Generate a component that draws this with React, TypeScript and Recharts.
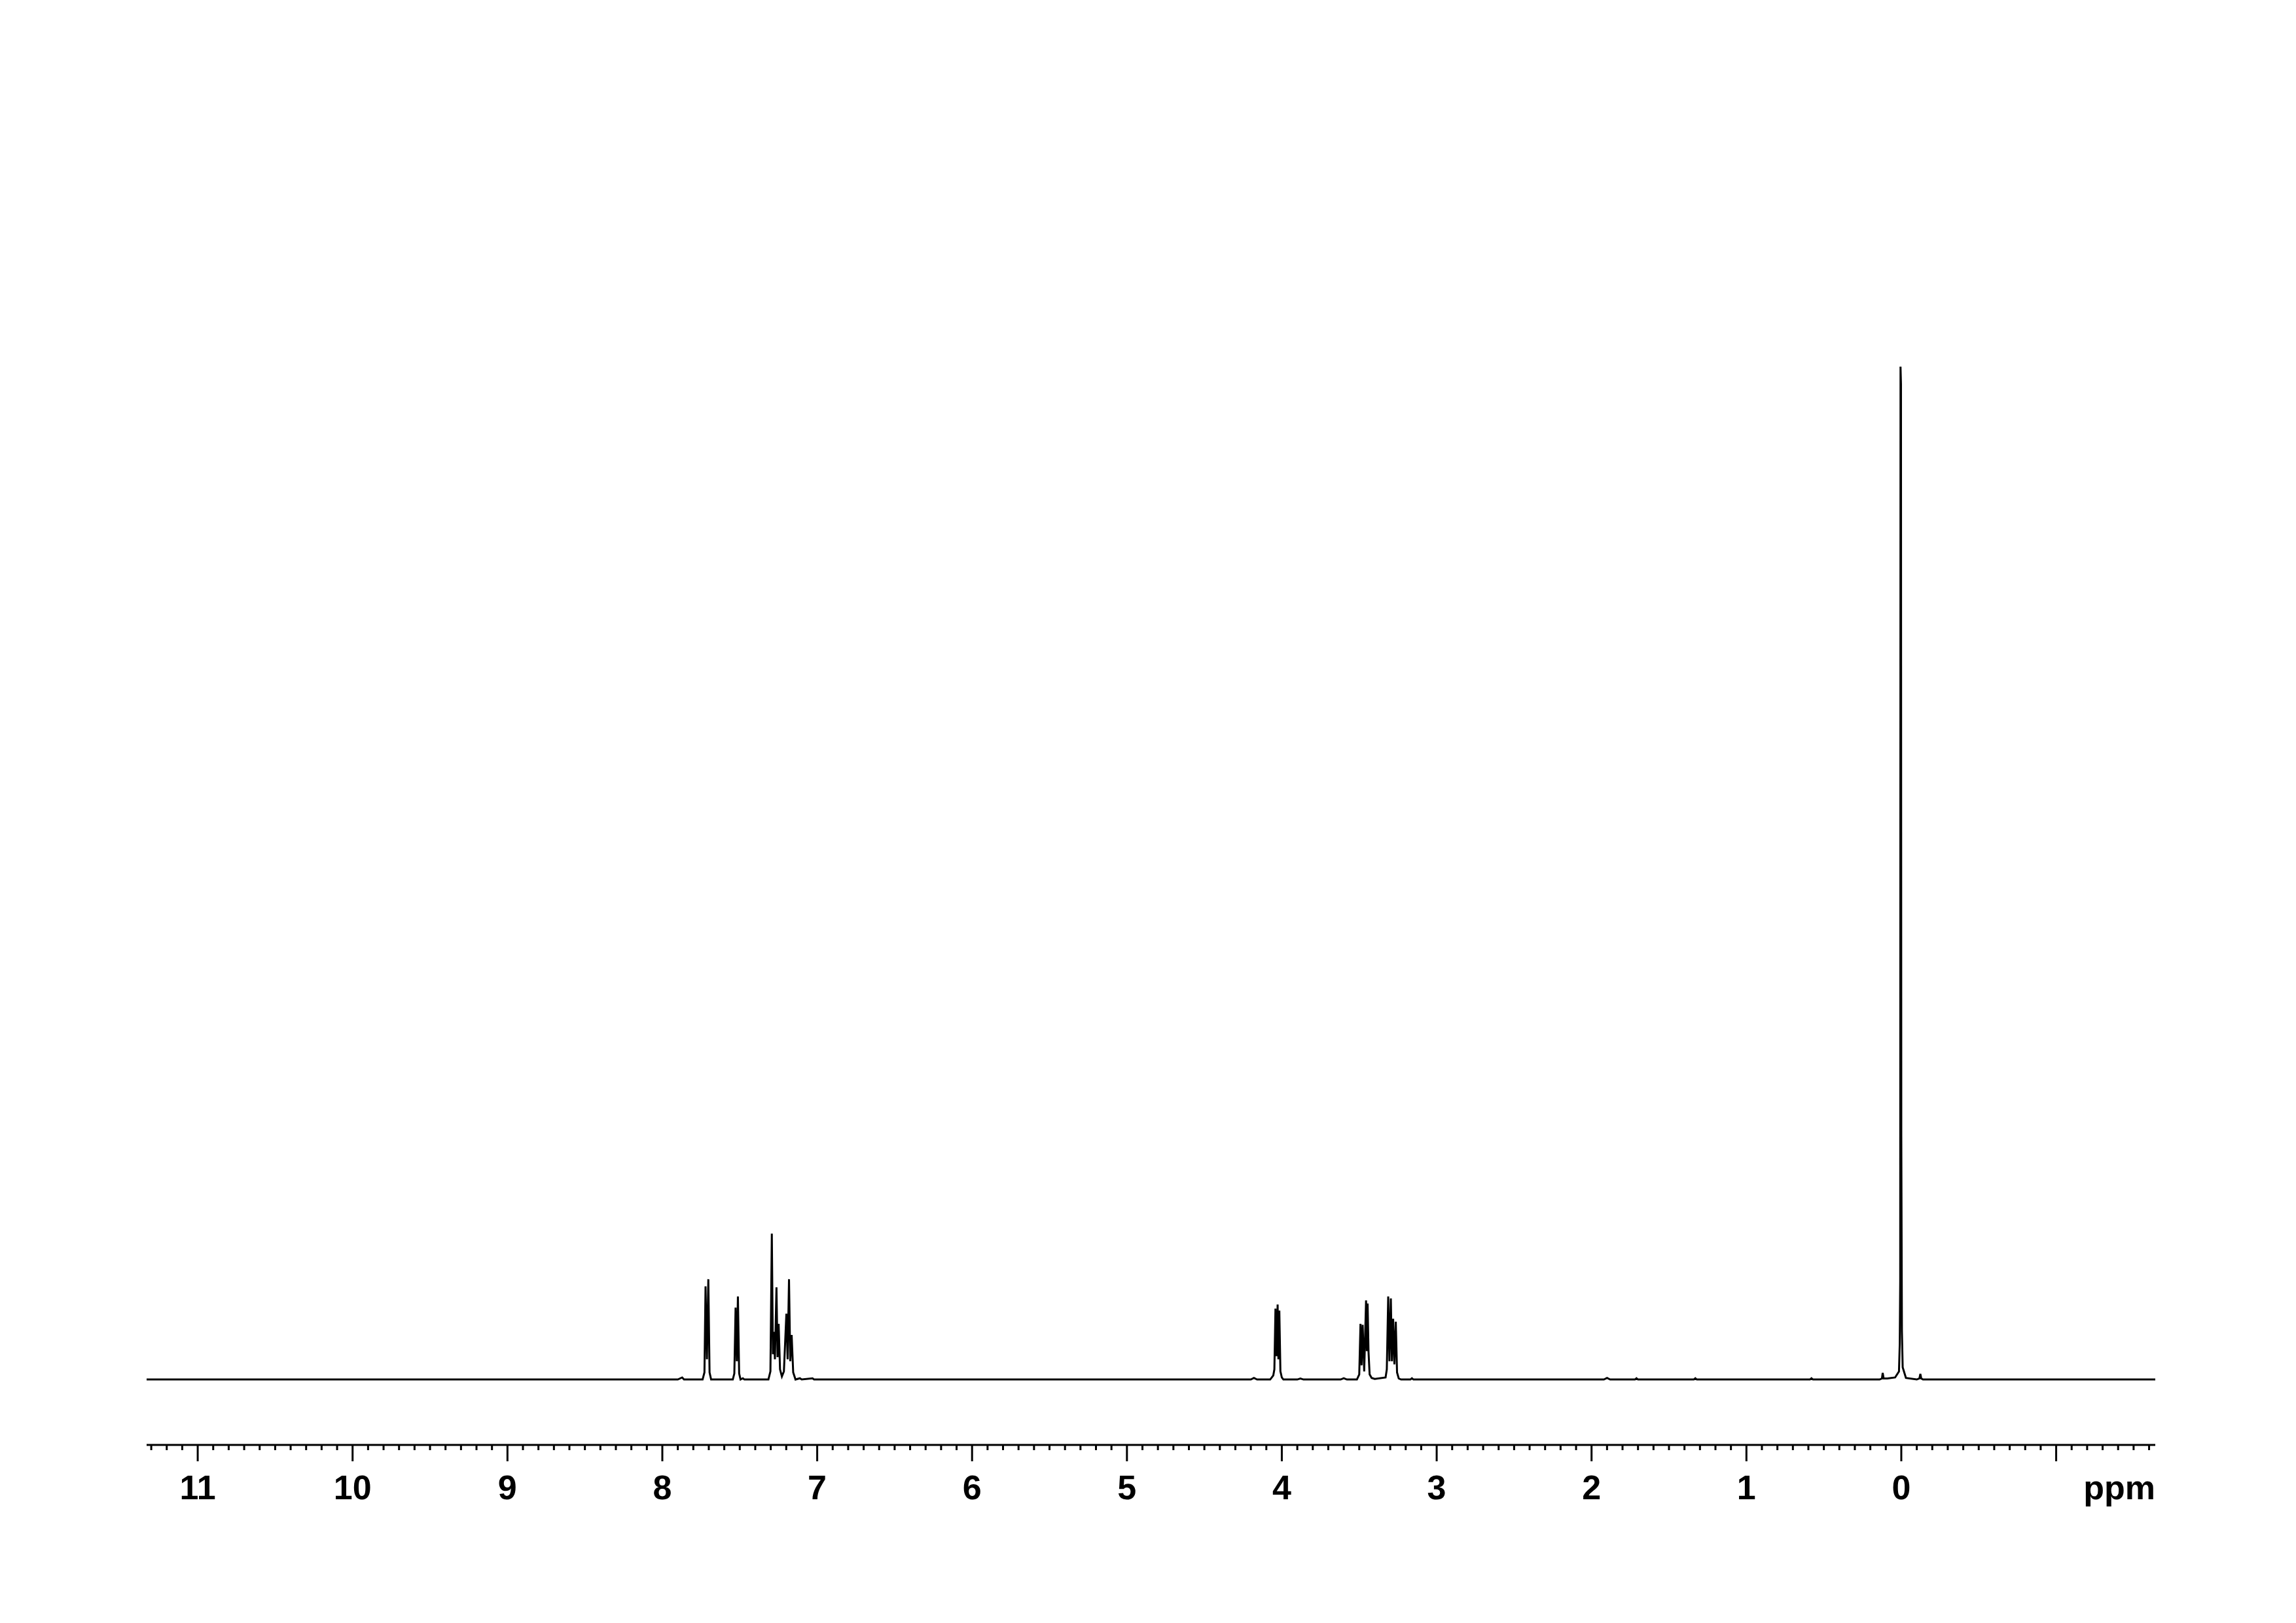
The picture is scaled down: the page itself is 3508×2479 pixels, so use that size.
import { LineChart, Line, XAxis, YAxis } from 'recharts'

// [ppm, intensity] pairs (TMS = 100)
const aromatic: [number, number][] = [
  [7.9, 0], [7.872, 0.2], [7.86, 0],
  [7.74, 0], [7.728, 0.7], [7.721, 9.2], [7.712, 2.0], [7.703, 9.9], [7.695, 0.7], [7.685, 0],
  [7.545, 0], [7.535, 0.6], [7.527, 7.1], [7.519, 1.8], [7.512, 8.2], [7.504, 0.6], [7.495, 0],
  [7.48, 0.12], [7.47, 0],
  [7.315, 0], [7.302, 0.8], [7.293, 14.4], [7.286, 2.5], [7.28, 4.7], [7.273, 2.0], [7.263, 9.1],
  [7.256, 2.2], [7.249, 5.5], [7.24, 1.0], [7.228, 0.3],
  [7.215, 0.8], [7.199, 6.5], [7.191, 2.0], [7.182, 9.9], [7.174, 1.8], [7.165, 4.4], [7.155, 0.7], [7.14, 0],
  [7.112, 0.12], [7.1, 0],
  [7.03, 0.12], [7.02, 0],
]

const methine: [number, number][] = [
  [4.2, 0], [4.18, 0.15], [4.16, 0],
  [4.075, 0], [4.055, 0.4], [4.048, 1.0], [4.041, 7.0], [4.034, 2.3], [4.027, 7.4], [4.022, 2.0],
  [4.016, 6.8], [4.009, 0.8], [4.0, 0.2], [3.99, 0],
  [3.9, 0], [3.88, 0.1], [3.86, 0],
  [3.62, 0], [3.6, 0.12], [3.58, 0],
]

const methylene: [number, number][] = [
  [3.515, 0], [3.5, 0.5], [3.492, 5.5], [3.485, 1.4], [3.478, 5.4], [3.468, 0.8], [3.456, 7.8],
  [3.451, 2.8], [3.446, 7.5], [3.44, 2.7], [3.433, 0.5], [3.42, 0.15], [3.4, 0.05],
  [3.33, 0.2], [3.322, 1.0], [3.313, 8.2], [3.305, 1.8], [3.296, 8.0], [3.289, 1.8], [3.281, 6.0],
  [3.273, 1.5], [3.264, 5.7], [3.256, 0.7], [3.245, 0.1], [3.23, 0],
  [3.17, 0], [3.16, 0.12], [3.15, 0],
]

const impurities: [number, number][] = [
  [1.92, 0], [1.9, 0.15], [1.88, 0],
  [1.72, 0], [1.71, 0.12], [1.7, 0],
  [1.34, 0], [1.33, 0.12], [1.32, 0],
  [0.59, 0], [0.58, 0.12], [0.57, 0],
]

const tms: [number, number][] = [
  [0.14, 0], [0.125, 0.1], [0.12, 0.65], [0.114, 0.1], [0.09, 0.1], [0.04, 0.2], [0.015, 0.8],
  [0.01, 3.5], [0.007, 9.7], [0.005, 100], [0.002, 98.3], [0.0, 24], [-0.004, 4.8], [-0.009, 1.2],
  [-0.03, 0.15], [-0.1, 0], [-0.117, 0.1], [-0.123, 0.55], [-0.129, 0.1], [-0.14, 0],
]

const ppmRange: [number, number] = [-1.64, 11.33]
const tickLabels = ['11', '10', '9', '8', '7', '6', '5', '4', '3', '2', '1', '0']
const majorTicks = [11, 10, 9, 8, 7, 6, 5, 4, 3, 2, 1, 0, -1]

// 0.1 ppm minor ticks across the whole axis
const allTicks = Array.from({ length: 130 }, (_, k) => (113 - k) / 10)

const data = [
  [ppmRange[1], 0] as [number, number],
  ...aromatic, ...methine, ...methylene, ...impurities, ...tms,
  [ppmRange[0], 0] as [number, number],
].map(([ppm, i]) => ({ ppm, i }))

const FONT = '"Liberation Sans", Arial, Helvetica, sans-serif'

const Tick = (props: any) => {
  const { x, y, payload } = props
  const v = payload.value as number
  const major = majorTicks.some(m => Math.abs(m - v) < 1e-6)
  const idx = major ? 11 - Math.round(v) : -1
  const lbl = idx >= 0 && idx < tickLabels.length ? tickLabels[idx] : ''
  return (
    <g>
      <line x1={x} x2={x} y1={y} y2={y + (major ? 25 : 8)} stroke="#000" strokeWidth={3} />
      {lbl && (
        <text x={x} y={y + 83} textAnchor="middle" fontSize={52} fontWeight="bold" fontFamily={FONT} fill="#000">
          {lbl}
        </text>
      )}
    </g>
  )
}

const PpmLabel = (props: any) => {
  const vb = props.viewBox || {}
  return (
    <text x={vb.x + vb.width} y={vb.y + 83} textAnchor="end" fontSize={52} fontWeight="bold" fontFamily={FONT} fill="#000">
      ppm
    </text>
  )
}

export default function App() {
  return (
    <div style={{ position: 'absolute', left: 0, top: 0, width: 3508, height: 2479, background: '#fff' }}>
      <LineChart width={3508} height={2479} data={data} margin={{ top: 560, right: 215, bottom: 172, left: 224 }}>
        <XAxis
          dataKey="ppm"
          type="number"
          domain={ppmRange}
          reversed
          allowDataOverflow
          ticks={allTicks}
          interval={0}
          tick={<Tick />}
          tickLine={false}
          tickSize={0}
          tickMargin={0}
          axisLine={{ stroke: '#000', strokeWidth: 3 }}
          height={100}
          label={<PpmLabel />}
        />
        <YAxis type="number" domain={[-6.46, 100]} allowDataOverflow hide />
        <Line
          type="linear"
          dataKey="i"
          stroke="#000"
          strokeWidth={3}
          dot={false}
          activeDot={false}
          isAnimationActive={false}
        />
      </LineChart>
    </div>
  )
}
